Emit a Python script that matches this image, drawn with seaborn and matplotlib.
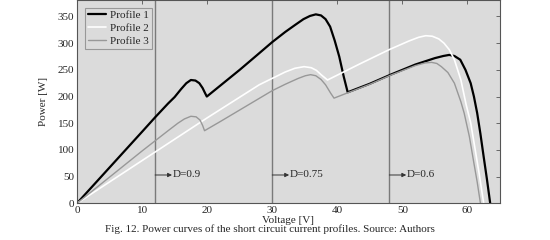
import matplotlib
matplotlib.use("Agg")
import matplotlib.pyplot as plt
import seaborn as sns
import pandas as pd

# ---- data ----
v1 = [0, 5, 10, 12, 14, 15, 16, 16.8, 17.5, 18.2, 18.8, 19.3, 19.7, 19.95, 25, 27.7, 30,
      32, 33.5, 34.8, 35.8, 36.7, 37.5, 38.2, 38.9, 39.6, 40.3, 41.0, 41.6, 45, 48.2, 52,
      55, 56.3, 57.2, 58, 58.9, 59.7, 60.5, 61, 61.5, 62, 62.5, 63, 63.5]
p1 = [0, 67, 134, 161, 187, 199, 214, 225, 231, 230, 225, 216, 206, 200, 250, 278, 302,
      321, 334, 345, 351, 354, 352, 345, 331, 305, 275, 237, 208, 224, 241, 260,
      272, 276, 278, 276, 269, 250, 225, 200, 169, 130, 87, 45, 0]

v2 = [0, 10, 20, 28, 30, 32, 33.5, 34.9, 36, 36.8, 37.6, 38.5, 43.6, 48, 51, 52.5, 53.6,
      54.6, 55.6, 56.4, 57.2, 58, 59, 59.8, 60.5, 61.2, 61.8, 62.5]
p2 = [0, 80, 160, 222, 234, 246, 253, 256, 254, 249, 240, 231, 262, 288, 304, 311, 314,
      313, 308, 300, 288, 269, 231, 185, 151, 100, 56, 0]

v3 = [0, 10, 14, 15.5, 16.5, 17.5, 18.3, 18.9, 19.3, 19.6, 22, 30, 32, 34, 35.1, 35.9,
      36.7, 37.5, 38.2, 39, 39.5, 41.6, 45, 48.2, 52, 53.5, 54.5, 55.3, 56, 57, 58, 59,
      59.5, 60.3, 61, 61.5, 62]
p3 = [0, 98, 136, 150, 158, 163, 162, 156, 146, 136, 153, 211, 223, 234, 239, 241,
      239, 232, 222, 206, 197, 207, 223, 240, 258, 263, 264, 262, 256, 245, 225, 190,
      169, 125, 75, 40, 0]

labels = ["Profile 1", "Profile 2", "Profile 3"]
duty_v = [12, 30, 48]
duty_labels = ["D=0.9", "D=0.75", "D=0.6"]

df = pd.concat([
    pd.DataFrame({"V": v1, "P": p1, "profile": labels[0]}),
    pd.DataFrame({"V": v2, "P": p2, "profile": labels[1]}),
    pd.DataFrame({"V": v3, "P": p3, "profile": labels[2]}),
])

sns.set_theme(style="white")
plt.rcParams["font.family"] = ["Liberation Serif", "DejaVu Serif"]
plt.rcParams["font.size"] = 8

fig = plt.figure(figsize=(5.5, 2.4), dpi=100)
ax = fig.add_axes([0.14, 0.153, 0.769, 0.845])
ax.set_facecolor("#dbdbdb")

styles = {labels[0]: ("#000000", 1.6), labels[1]: ("#ffffff", 1.2), labels[2]: ("#989898", 1.0)}
for lab in labels:
    sub = df[df["profile"] == lab]
    c, lw = styles[lab]
    sns.lineplot(data=sub, x="V", y="P", ax=ax, color=c, linewidth=lw,
                 sort=False, estimator=None, label=lab)

for xv, txt in zip(duty_v, duty_labels):
    ax.axvline(xv, color="#7a7a7a", linewidth=1.0, zorder=1)
    ax.annotate("", xy=(xv + 2.6, 53), xytext=(xv, 53),
                arrowprops=dict(arrowstyle="-|>", color="#333333", lw=0.7,
                                mutation_scale=6, shrinkA=0, shrinkB=0))
    ax.text(xv + 2.7, 53, txt, fontsize=8, va="center", ha="left")

ax.set_xlim(0, 65)
ax.set_ylim(0, 380)
ax.set_xticks(range(0, 61, 10))
ax.set_yticks(range(0, 351, 50))
ax.tick_params(direction="in", length=3, width=0.6, top=True, right=True,
               labelsize=8, pad=2, color="#555555")
for s in ax.spines.values():
    s.set_color("#555555")
    s.set_linewidth(0.8)
ax.set_xlabel("Voltage [V]", fontsize=8, labelpad=1)
ax.set_ylabel("Power [W]", fontsize=8, labelpad=7)

leg = ax.legend(loc="upper left", bbox_to_anchor=(0.02, 0.965), fontsize=8,
                frameon=True, fancybox=False, facecolor="#dbdbdb", edgecolor="#888888",
                handlelength=1.6, handletextpad=0.4, borderpad=0.25, labelspacing=0.3,
                borderaxespad=0)
leg.get_frame().set_linewidth(0.8)

fig.text(0.49, 0.045, "Fig. 12. Power curves of the short circuit current profiles. Source: Authors",
         ha="center", va="center", fontsize=8)

fig.savefig("out.png", dpi=100, facecolor="white")
